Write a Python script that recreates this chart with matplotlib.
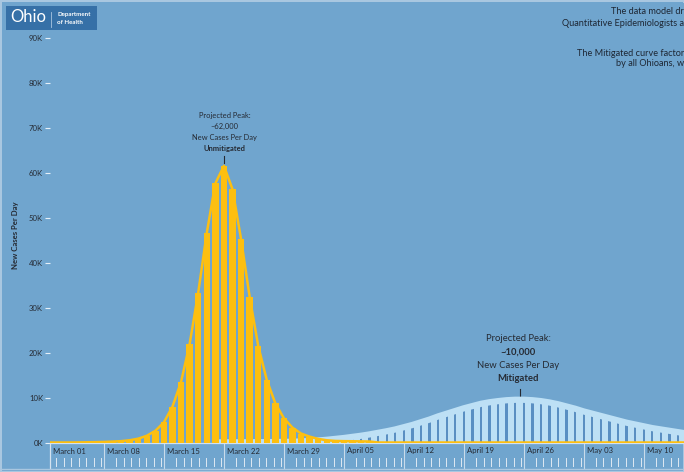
import matplotlib
matplotlib.use('Agg')
import matplotlib.pyplot as plt
from matplotlib.patches import Rectangle

# ---------------- data (thousands of new cases per day; day 0 = March 01) ----------------
unmit_days = list(range(0, 76))
unmit_vals = [0, 0, 0, 0, 0.02, 0.05, 0.08, 0.12, 0.2, 0.3,
              0.5, 0.85, 1.5, 2.6, 4.5, 8.0, 13.5, 21.9, 33.3, 46.6,
              57.6, 61.5, 56.3, 45.2, 32.4, 21.5, 13.9, 8.7, 5.4, 3.3,
              2.0, 1.3, 0.8, 0.5, 0.35, 0.3, 0.28, 0.25, 0.22, 0,
              0, 0, 0, 0, 0, 0, 0, 0, 0, 0,
              0, 0, 0, 0, 0, 0, 0, 0, 0, 0,
              0, 0, 0, 0, 0, 0, 0, 0, 0, 0,
              0, 0, 0, 0, 0, 0]

mit_days = list(range(20, 76))
mit_vals = [0.01, 0.02, 0.03, 0.04, 0.05, 0.06, 0.08, 0.1, 0.13, 0.17,
            0.23, 0.32, 0.45, 0.6, 0.8, 1.0, 1.25, 1.5, 1.8, 2.15,
            2.5, 2.9, 3.4, 3.9, 4.5, 5.1, 5.8, 6.4, 7.0, 7.6,
            8.1, 8.6, 8.95, 9.2, 9.4, 9.5, 9.5, 9.4, 9.2, 8.9,
            8.5, 8.0, 7.5, 6.9, 6.4, 5.9, 5.4, 4.9, 4.4, 4.0,
            3.6, 3.2, 2.9, 2.6, 2.3, 2.0]

week_starts = [0, 7, 14, 21, 28, 35, 42, 49, 56, 63, 70]
week_labels = ['March 01', 'March 08', 'March 15', 'March 22', 'March 29',
               'April 05', 'April 12', 'April 19', 'April 26', 'May 03', 'May 10']

y_ticks = [0, 10, 20, 30, 40, 50, 60, 70, 80, 90]
y_tick_labels = ['0K', '10K', '20K', '30K', '40K', '50K', '60K', '70K', '80K', '90K']

unmit_peak_day = 21
mit_peak_day = 55.5

# ---------------- style ----------------
W, H = 684, 472
BG = '#70a5ce'
GOLD = '#fdbf10'
LIGHT = '#bde0f5'
DARKBAR = '#5a8fc2'
TEXT = '#252a33'
FONT = ['Lato', 'DejaVu Sans']
plt.rcParams['font.family'] = FONT

fig = plt.figure(figsize=(W / 100, H / 100), dpi=100, facecolor=BG)

AX_L, AX_R, AX_T, AX_B = 50, 684, 3, 442.5
ax = fig.add_axes([AX_L / W, (H - AX_B) / H, (AX_R - AX_L) / W, (AX_B - AX_T) / H])
ax.set_facecolor(BG)
X0, X1 = 0.7, 74.7
ax.set_xlim(X0, X1)
ax.set_ylim(0, 97.7)

# mitigated area + thin bars
ax.fill_between(mit_days, 0, mit_vals, color=LIGHT, lw=0, zorder=1)
ax.bar(mit_days, mit_vals, width=0.27, color=DARKBAR, lw=0, zorder=2)
ax.plot(mit_days, mit_vals, color=LIGHT, lw=4.5, zorder=3, solid_capstyle='butt')

# unmitigated bars + line
ax.bar(unmit_days, unmit_vals, width=0.75, color=GOLD, lw=0, zorder=4)
ax.plot(unmit_days, unmit_vals, color=GOLD, lw=1.8, zorder=5)

for s in ['top', 'right', 'left']:
    ax.spines[s].set_visible(False)
ax.spines['bottom'].set_color('#d3e2ef')
ax.spines['bottom'].set_linewidth(0.9)

ax.set_yticks(y_ticks)
ax.set_yticklabels(y_tick_labels)
ax.tick_params(axis='y', length=3.5, width=0.8, color='#e6eff7', pad=1.5,
               labelsize=5.6, labelcolor=TEXT)
ax.set_xticks([])
ax.set_ylabel('New Cases Per Day', fontsize=5.6, fontweight='bold', color=TEXT)
ax.yaxis.set_label_coords((19 - AX_L) / (AX_R - AX_L), (AX_B - 235) / (AX_B - AX_T))


def ypx(p):
    return (AX_B - p) / (AX_B - AX_T)


tr = ax.get_xaxis_transform()
# left border of header
ax.plot([X0, X0], [ypx(AX_B), ypx(468)], transform=tr, clip_on=False, color='#d3e2ef', lw=0.9)
for d, lab in zip(week_starts, week_labels):
    start = max(d, X0)
    if d > X0:
        ax.plot([d, d], [ypx(AX_B), ypx(468)], transform=tr, clip_on=False,
                color='#c9dbeb', lw=0.8)
    ax.text(start + 0.4, ypx(451), lab, transform=tr, clip_on=False, fontsize=5.6,
            color=TEXT, ha='left', va='center')
    for k in range(7):
        tx = d + 0.55 + (k + 1) * 0.875
        if tx < X1:
            ax.plot([tx, tx], [ypx(457.5), ypx(465.5)], transform=tr, clip_on=False,
                    color='#dfe9f3', lw=0.7)
fig.add_artist(plt.Line2D([0, 1], [(H - 469) / H] * 2, color='#a9c7e0', lw=1.0))

# annotations
u_lines = [('Projected Peak:', 'normal', 115.5), ('~62,000', 'normal', 126.5),
           ('New Cases Per Day', 'normal', 137.5), ('Unmitigated', 'bold', 148.5)]
for txt, wt, yp in u_lines:
    ax.text(unmit_peak_day + 0.1, ypx(yp), txt, transform=tr, fontsize=5.4, fontweight=wt,
            color=TEXT, ha='center', va='center')
ax.plot([unmit_peak_day, unmit_peak_day], [ypx(155.5), ypx(163)], transform=tr,
        color=TEXT, lw=0.8)

m_lines = [('Projected Peak:', 'normal', 338.5), ('~10,000', 'bold', 352),
           ('New Cases Per Day', 'normal', 365), ('Mitigated', 'bold', 378.5)]
for txt, wt, yp in m_lines:
    ax.text(mit_peak_day - 0.15, ypx(yp), txt, transform=tr, fontsize=6.8, fontweight=wt,
            color=TEXT, ha='center', va='center')
ax.plot([mit_peak_day, mit_peak_day], [ypx(389), ypx(397)], transform=tr,
        color=TEXT, lw=0.8)

# logo
fig.add_artist(Rectangle((6 / W, (H - 30) / H), 91 / W, 24 / H, transform=fig.transFigure,
                         color='#3670a7', lw=0))
fig.text(10 / W, (H - 17.5) / H, 'Ohio', fontsize=12, color='white', ha='left', va='center')
fig.add_artist(plt.Line2D([51 / W, 51 / W], [(H - 11.5) / H, (H - 26.5) / H],
                          color='#a9c4de', lw=0.6))
fig.text(57 / W, (H - 14.8) / H, 'Department', fontsize=4.4, fontweight='bold',
         color='white', ha='left', va='center')
fig.text(57 / W, (H - 22.2) / H, 'of Health', fontsize=4.4, fontweight='bold',
         color='white', ha='left', va='center')

# cut-off description text (top right)
desc = [('The data model dr', 12), ('Quantitative Epidemiologists a', 23),
        ('The Mitigated curve factor', 53), ('by all Ohioans, w', 64)]
for txt, yp in desc:
    fig.text(1.0, (H - yp) / H, txt, fontsize=6.6, color='#1d2633', ha='right', va='center')

fig.patch.set_edgecolor('#a9c7e0')
fig.patch.set_linewidth(2)

fig.savefig('out.png', dpi=100, facecolor=BG, edgecolor=fig.get_edgecolor())
